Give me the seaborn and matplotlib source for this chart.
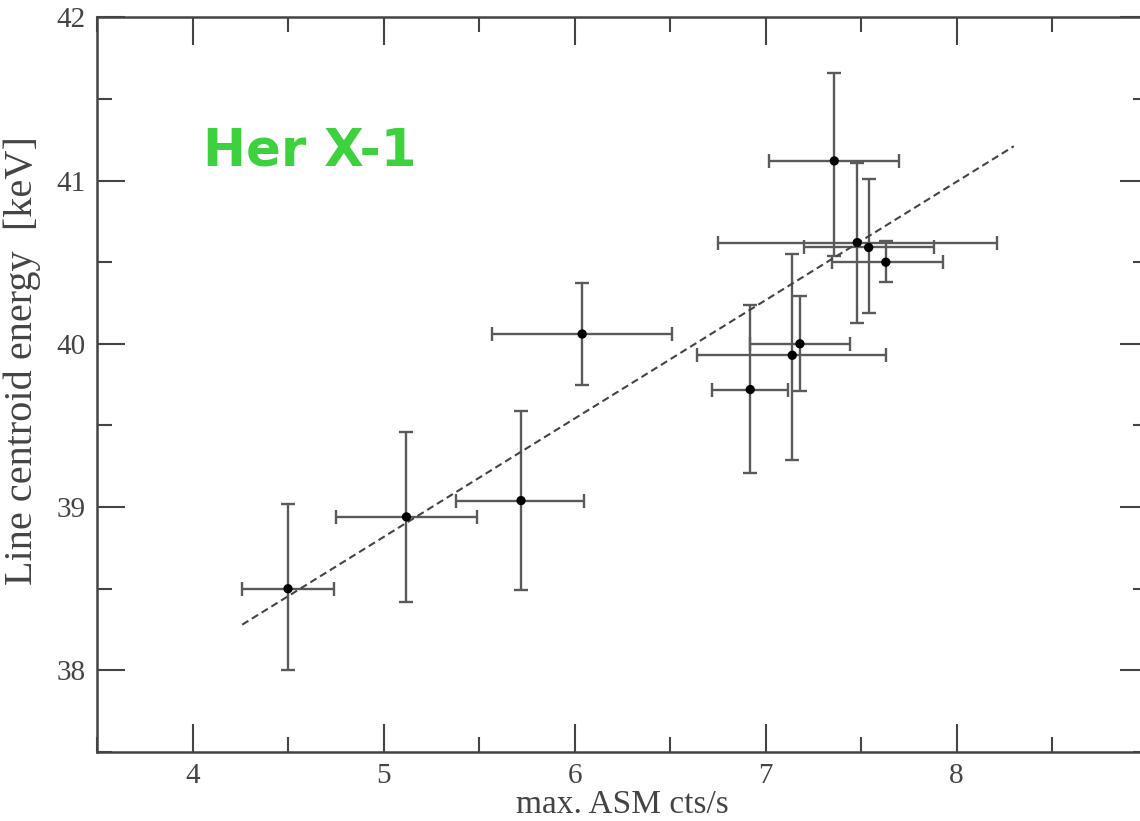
import matplotlib
matplotlib.use("Agg")
import matplotlib.pyplot as plt
import seaborn as sns
import pandas as pd
from matplotlib.ticker import MultipleLocator

# ---- data ----
asm_rate = [4.50, 5.12, 5.72, 6.04, 6.92, 7.14, 7.18, 7.36, 7.48, 7.54, 7.63]
x_err_lo = [0.24, 0.37, 0.34, 0.47, 0.20, 0.50, 0.26, 0.34, 0.73, 0.34, 0.28]
x_err_hi = [0.24, 0.37, 0.33, 0.47, 0.20, 0.49, 0.26, 0.34, 0.73, 0.34, 0.30]
energy = [38.50, 38.94, 39.04, 40.06, 39.72, 39.93, 40.00, 41.12, 40.62, 40.59, 40.50]
y_err_lo = [0.50, 0.52, 0.55, 0.31, 0.51, 0.64, 0.29, 0.58, 0.49, 0.40, 0.12]
y_err_hi = [0.52, 0.52, 0.55, 0.31, 0.52, 0.62, 0.29, 0.54, 0.49, 0.42, 0.13]
fit_x = [4.26, 8.30]
fit_y = [38.28, 41.21]
x_ticks = [4, 5, 6, 7, 8, 9]
y_ticks = [38, 39, 40, 41, 42]

sns.set_theme(style="ticks")
plt.rcParams["font.family"] = ["Liberation Serif", "DejaVu Serif"]

fig = plt.figure(figsize=(11.40, 8.21), dpi=100)
ax = fig.add_axes([0.0851, 0.084, 0.9215, 0.895])

df = pd.DataFrame({"x": asm_rate, "y": energy})

ax.errorbar(asm_rate, energy, xerr=[x_err_lo, x_err_hi], yerr=[y_err_lo, y_err_hi],
            fmt="none", ecolor="#5a5a5a", elinewidth=1.7, capsize=5, capthick=1.7, zorder=2)
sns.lineplot(x=fit_x, y=fit_y, ax=ax, color="#444444", linestyle=(0, (3.5, 2)),
             linewidth=1.5, zorder=3)
sns.scatterplot(data=df, x="x", y="y", ax=ax, color="black", s=45, edgecolor="none", zorder=4)

ax.set_xlim(3.5, 9.0)
ax.set_ylim(37.5, 42.0)
ax.set_xticks(x_ticks)
ax.set_yticks(y_ticks)
ax.xaxis.set_minor_locator(MultipleLocator(0.5))
ax.yaxis.set_minor_locator(MultipleLocator(0.5))
ax.tick_params(which="both", direction="in", top=True, right=True, color="#444444",
               width=1.5, labelcolor="#444444", labelsize=21)
ax.tick_params(which="major", length=20, pad=8)
ax.tick_params(which="minor", length=11)
for s in ax.spines.values():
    s.set_color("#444444")
    s.set_linewidth(1.8)

ax.set_xlabel("max. ASM cts/s", fontsize=24, color="#444444", labelpad=0)
ax.set_ylabel("Line centroid energy  [keV]", fontsize=29, color="#444444")
ax.yaxis.set_label_coords(-0.053, 0.533)

ax.text(0.178, 0.815, "Her X-1", transform=fig.transFigure, color="#3dd23d",
        fontsize=37, fontweight="bold", family=["DejaVu Sans"], ha="left", va="center")

fig.savefig("out.png", dpi=100)
